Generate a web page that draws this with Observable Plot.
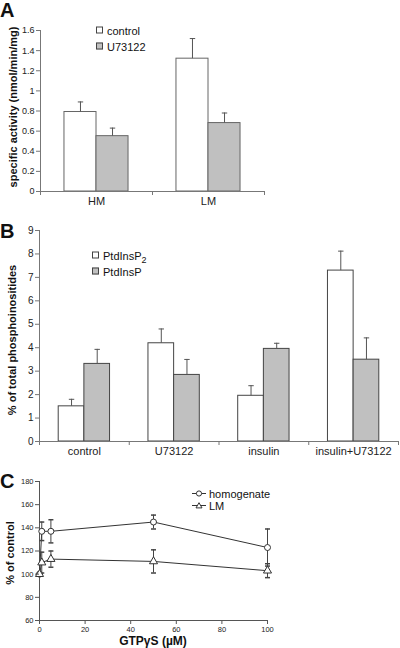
<!DOCTYPE html>
<html><head><meta charset="utf-8">
<script src="https://cdn.jsdelivr.net/npm/d3@7"></script>
<script src="https://cdn.jsdelivr.net/npm/@observablehq/plot@0.6"></script>
<style>
body{margin:0;background:#fff;font-family:"Liberation Sans",Arial,sans-serif;color:#111;}
#wrap{position:relative;width:400px;height:648px;overflow:hidden;background:#fff;}
.panel{position:absolute;left:0;}
.letter{position:absolute;font-weight:bold;font-size:20px;line-height:20px;}
.ylab{position:absolute;font-weight:bold;font-size:11px;line-height:11px;white-space:nowrap;transform:translate(-50%,-50%) rotate(-90deg);}
.xlab{position:absolute;font-weight:bold;font-size:12px;line-height:12px;white-space:nowrap;transform:translate(-50%,-50%);}
.leg{position:absolute;font-size:11px;line-height:11px;white-space:nowrap;transform:translateY(-50%);}
.sw{display:inline-block;width:5px;height:5px;border:1px solid #444;margin-right:4px;vertical-align:1px;}
.leg sub{font-size:9px;line-height:0;vertical-align:-3px;}
</style></head><body><div id="wrap"></div>
<script>
// ---------- Panel A data ----------
const catsA = ["HM", "LM"];
const seriesA = ["control", "U73122"];
const controlA = [0.79, 1.32];
const controlErrA = [0.10, 0.20];
const u73122A = [0.55, 0.68];
const u73122ErrA = [0.08, 0.10];
const yTicksA = [0, 0.2, 0.4, 0.6, 0.8, 1, 1.2, 1.4, 1.6];

// ---------- Panel B data ----------
const catsB = ["control", "U73122", "insulin", "insulin+U73122"];
const seriesB = ["PtdInsP2", "PtdInsP"];
const ptdInsP2 = [1.50, 4.19, 1.95, 7.29];
const ptdInsP2Err = [0.30, 0.61, 0.43, 0.83];
const ptdInsP = [3.31, 2.84, 3.95, 3.49];
const ptdInsPErr = [0.62, 0.66, 0.24, 0.93];
const yTicksB = [0, 1, 2, 3, 4, 5, 6, 7, 8, 9];

// ---------- Panel C data ----------
const seriesC = ["homogenate", "LM"];
const gtp = [0, 1, 5, 50, 100];
const homogenate = [100, 137, 137, 145, 123];
const homogenateErr = [0, 8, 10, 6, 16];
const lm = [100, 110, 113, 111, 103];
const lmErr = [0, 9, 7, 10, 6];
const xTicksC = [0, 20, 40, 60, 80, 100];
const yTicksC = [60, 80, 100, 120, 140, 160, 180];

// ---------- helpers ----------
const FONT = "'Liberation Sans', Arial, sans-serif";
const PAD = 0.214, BW = 0.286; // group layout within each category band
const hcap = {draw(ctx, size) { const r = Math.sqrt(size / Math.PI); ctx.moveTo(-r, 0); ctx.lineTo(r, 0); }};
function groupRows(cats, series, vals, errs) {
  const rows = [];
  cats.forEach((c, i) => series.forEach((s, j) => {
    const x1 = i + PAD + j * BW;
    rows.push({cat: c, series: s, x1, x2: x1 + BW, xc: x1 + BW / 2, v: vals[j][i], top: vals[j][i] + errs[j][i]});
  }));
  return rows;
}
const wrap = document.getElementById("wrap");
function place(el, top) { const d = document.createElement("div"); d.className = "panel"; d.style.top = top + "px"; d.append(el); wrap.append(d); }
function html(cls, style, inner) { const d = document.createElement("div"); d.className = cls; d.setAttribute("style", style); d.innerHTML = inner; wrap.append(d); }

function groupedBars({cats, series, rows, yDomain, yTicks, yFmt, height, margins, fills, barStroke, tickFont, catFont}) {
  return Plot.plot({
    width: 400, height, ...margins,
    style: {fontFamily: FONT, background: "transparent", color: "#111"},
    x: {domain: [0, cats.length], label: null},
    y: {domain: yDomain, label: null},
    color: {domain: series, range: fills},
    marks: [
      Plot.rect(rows, {x1: "x1", x2: "x2", y1: 0, y2: "v", fill: "series", stroke: barStroke, strokeWidth: 1}),
      Plot.ruleX(rows, {x: "xc", y1: "v", y2: "top", stroke: "#555", strokeWidth: 1}),
      Plot.dot(rows, {x: "xc", y: "top", symbol: hcap, r: 2.7, stroke: "#555", strokeWidth: 1}),
      Plot.ruleX([0], {stroke: "#777"}),
      Plot.ruleY([0], {stroke: "#777"}),
      Plot.axisY({ticks: yTicks, tickSize: 4, tickPadding: 2, tickFormat: yFmt, label: null, stroke: "#777", fill: "#222", fontSize: tickFont}),
      Plot.axisX({ticks: d3.range(cats.length + 1), tickSize: 4, tickFormat: () => "", label: null, stroke: "#777"}),
      Plot.axisX({ticks: cats.map((c, i) => i + 0.5), tickSize: 0, tickPadding: 6, tickFormat: d => cats[Math.floor(d)], label: null, fill: "#222", fontSize: catFont})
    ]
  });
}

// ---------- Panel A ----------
const rowsA = groupRows(catsA, seriesA, [controlA, u73122A], [controlErrA, u73122ErrA]);
place(groupedBars({cats: catsA, series: seriesA, rows: rowsA, yDomain: [0, 1.6], yTicks: yTicksA, yFmt: d3.format("~g"),
  height: 212, margins: {marginLeft: 40, marginRight: 136, marginTop: 30, marginBottom: 21},
  fills: ["#ffffff", "#c0c0c0"], barStroke: "#666", tickFont: 9, catFont: 11}), 0);

// ---------- Panel B ----------
const rowsB = groupRows(catsB, seriesB, [ptdInsP2, ptdInsP], [ptdInsP2Err, ptdInsPErr]);
place(groupedBars({cats: catsB, series: seriesB, rows: rowsB, yDomain: [0, 9], yTicks: yTicksB, yFmt: d3.format("d"),
  height: 250, margins: {marginLeft: 39, marginRight: 2, marginTop: 18, marginBottom: 21},
  fills: ["#ffffff", "#c0c0c0"], barStroke: "#444", tickFont: 10, catFont: 11}), 212);

// ---------- Panel C ----------
const rowsC = [];
gtp.forEach((g, i) => {
  rowsC.push({series: seriesC[0], g, v: homogenate[i], lo: homogenate[i] - homogenateErr[i], hi: homogenate[i] + homogenateErr[i], e: homogenateErr[i]});
  rowsC.push({series: seriesC[1], g, v: lm[i], lo: lm[i] - lmErr[i], hi: lm[i] + lmErr[i], e: lmErr[i]});
});
const errC = rowsC.filter(d => d.e > 0);
place(Plot.plot({
  width: 400, height: 186, marginLeft: 39, marginRight: 133, marginTop: 19, marginBottom: 28,
  style: {fontFamily: FONT, background: "transparent", color: "#111"},
  x: {domain: [0, 100], label: null},
  y: {domain: [60, 180], label: null},
  symbol: {domain: seriesC, range: ["circle", "triangle"]},
  marks: [
    Plot.ruleX([0], {stroke: "#555"}),
    Plot.ruleY([60], {stroke: "#555"}),
    Plot.line(rowsC, {x: "g", y: "v", z: "series", stroke: "#333", strokeWidth: 1}),
    Plot.ruleX(errC, {x: "g", y1: "lo", y2: "hi", stroke: "#444", strokeWidth: 1}),
    Plot.dot(errC, {x: "g", y: "hi", symbol: hcap, r: 2.5, stroke: "#444"}),
    Plot.dot(errC, {x: "g", y: "lo", symbol: hcap, r: 2.5, stroke: "#444"}),
    Plot.dot(rowsC, {x: "g", y: "v", symbol: "series", r: 3, fill: "white", stroke: "#333", strokeWidth: 1}),
    Plot.axisY({ticks: yTicksC, tickSize: 4, tickPadding: 2, label: null, stroke: "#555", fill: "#222", fontSize: 7.5}),
    Plot.axisX({ticks: xTicksC, tickSize: 4, tickPadding: 2, label: null, stroke: "#555", fill: "#222", fontSize: 7.5})
  ]
}), 462);

// ---------- Text overlays: panel letters, axis titles, legends ----------
html("letter", "left:0px;top:0px;", "A");
html("letter", "left:0px;top:221px;", "B");
html("letter", "left:0px;top:471px;", "C");
html("ylab", "left:13px;top:107px;", "specific activity (nmol/min/mg)");
html("ylab", "left:12px;top:340px;", "% of total phosphoinositides");
html("ylab", "left:10px;top:553px;", "% of control");
html("xlab", "left:153px;top:641px;", "GTP&gamma;S (&micro;M)");
html("leg", "left:96px;top:31px;", `<span class="sw" style="background:#fff"></span>${seriesA[0]}`);
html("leg", "left:96px;top:47px;", `<span class="sw" style="background:#c0c0c0"></span>${seriesA[1]}`);
html("leg", "left:92px;top:256px;", `<span class="sw" style="background:#fff"></span>PtdInsP<sub>2</sub>`);
html("leg", "left:92px;top:272px;", `<span class="sw" style="background:#c0c0c0"></span>${seriesB[1]}`);
const legC = (sym) => `<svg width="14" height="8" style="vertical-align:0px;margin-right:3px"><line x1="0" y1="4" x2="14" y2="4" stroke="#333"/>${sym}</svg>`;
html("leg", "left:192px;top:494px;", legC('<circle cx="7" cy="4" r="2.6" fill="#fff" stroke="#333"/>') + seriesC[0]);
html("leg", "left:192px;top:506px;", legC('<path d="M7,1.2L10,6.4L4,6.4Z" fill="#fff" stroke="#333"/>') + seriesC[1]);
</script></body></html>
